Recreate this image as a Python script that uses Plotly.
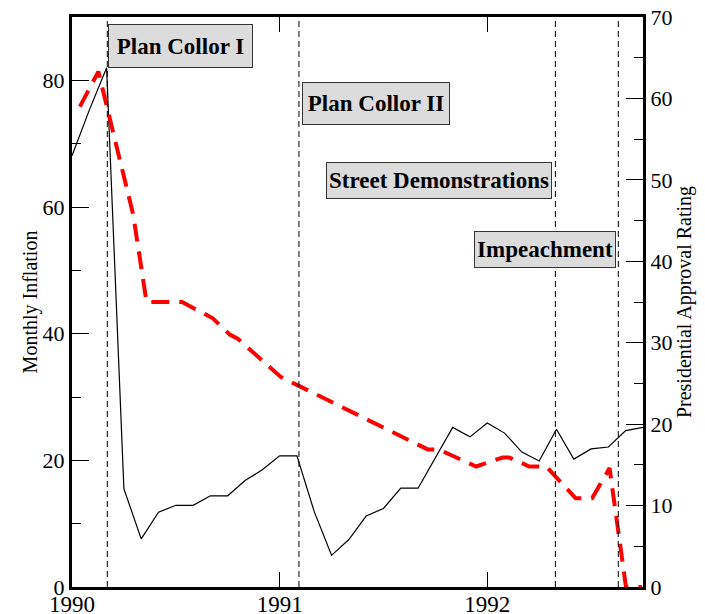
import plotly.graph_objects as go

# ---- data ----
infl_months = ["1990-01", "1990-02", "1990-03", "1990-04", "1990-05", "1990-06",
               "1990-07", "1990-08", "1990-09", "1990-10", "1990-11", "1990-12",
               "1991-01", "1991-02", "1991-03", "1991-04", "1991-05", "1991-06",
               "1991-07", "1991-08", "1991-09", "1991-10", "1991-11", "1991-12",
               "1992-01", "1992-02", "1992-03", "1992-04", "1992-05", "1992-06",
               "1992-07", "1992-08", "1992-09", "1992-10"]
inflation = [68.1, 75.3, 82.0, 15.5, 7.6, 11.8, 12.9, 12.9, 14.4, 14.4, 16.8, 18.5,
             20.7, 20.7, 11.9, 5.0, 7.5, 11.2, 12.4, 15.6, 15.6, 20.4, 25.2, 23.7,
             25.9, 24.3, 21.3, 19.9, 24.9, 20.2, 21.8, 22.1, 24.7, 25.2]

approval_dates = [1990.038, 1990.127, 1990.295, 1990.359, 1990.530, 1990.678,
                  1990.760, 1990.798, 1991.005, 1991.713, 1991.766, 1991.946,
                  1992.074, 1992.106, 1992.202, 1992.284, 1992.426, 1992.505,
                  1992.589, 1992.668, 1992.745]
approval = [59.0, 63.3, 45.7, 35.0, 35.0, 33.0, 31.0, 30.5, 25.8, 16.9, 16.9, 14.8,
            15.9, 15.9, 14.8, 14.8, 10.9, 10.9, 14.6, 0.0, 0.0]

event_dates = [1990.170, 1991.093, 1992.328, 1992.631]
event_labels = ["Plan Collor I", "Plan Collor II", "Street Demonstrations", "Impeachment"]
label_x = [1990.175, 1991.107, 1991.221, 1991.934]
label_y = [85.4, 76.3, 64.2, 53.3]

year_ticks = [1990, 1991, 1992]
year_labels = ["1990", "1991", "1992"]

# ---- figure ----
infl_x = [int(m[:4]) + (int(m[5:]) - 1) / 12 for m in infl_months]

FONT = "Liberation Serif"
fig = go.Figure()
fig.add_trace(go.Scatter(x=infl_x, y=inflation, mode="lines",
                         line=dict(color="black", width=1.2), yaxis="y",
                         showlegend=False))
fig.add_trace(go.Scatter(x=approval_dates, y=approval, mode="lines",
                         line=dict(color="#ff0000", width=4, dash="18px,10px"),
                         yaxis="y2", showlegend=False))

shapes = []
for d in event_dates:
    shapes.append(dict(type="line", xref="x", yref="paper", x0=d, x1=d, y0=0, y1=1,
                       line=dict(color="black", width=1, dash="6px,4px"), layer="above"))

box_w = [141, 144, 222, 138]
box_h = [40, 39, 33, 33]
annotations = []
for lab, xx, yy, w, h in zip(event_labels, label_x, label_y, box_w, box_h):
    annotations.append(dict(x=xx, y=yy, xref="x", yref="y", text="<b>" + lab + "</b>",
                            showarrow=False, xanchor="left", yanchor="middle",
                            bgcolor="#dcdcdc", bordercolor="#333333", borderwidth=1,
                            borderpad=1, width=w, height=h, align="center",
                            valign="middle",
                            font=dict(family=FONT, size=23, color="black")))

fig.update_layout(
    template="none",
    width=705, height=614,
    margin=dict(l=64, r=70, t=9, b=35, autoexpand=False),
    paper_bgcolor="white", plot_bgcolor="white",
    font=dict(family=FONT, size=22, color="black"),
    shapes=shapes, annotations=annotations,
    xaxis=dict(range=[1990, 1992.75], tickvals=year_ticks, ticktext=year_labels,
               ticks="inside", ticklen=15, tickwidth=1.2, tickcolor="black",
               showline=True, linewidth=3, linecolor="black", mirror="ticks",
               showgrid=False, zeroline=False, tickfont=dict(size=23),
               automargin=False, ticklabeloverflow="allow", ticklabelstandoff=-6),
    yaxis=dict(range=[0, 90], tick0=0, dtick=20, ticks="inside", ticklen=17,
               tickwidth=1.2, tickcolor="black",
               minor=dict(dtick=10, ticks="inside", ticklen=9, tickwidth=1.2,
                          tickcolor="black", showgrid=False),
               showline=True, linewidth=3, linecolor="black", showgrid=False,
               zeroline=False, tickfont=dict(size=22), automargin=False,
               ticklabeloverflow="allow",
               title=dict(text="Monthly Inflation", font=dict(size=20), standoff=0)),
    yaxis2=dict(range=[0, 70], tick0=0, dtick=10, overlaying="y", side="right",
                ticks="inside", ticklen=17, tickwidth=1.2, tickcolor="black",
                minor=dict(dtick=5, ticks="inside", ticklen=9, tickwidth=1.2,
                           tickcolor="black", showgrid=False),
                showline=True, linewidth=3, linecolor="black", showgrid=False,
                zeroline=False, tickfont=dict(size=22), automargin=False,
                ticklabeloverflow="allow",
                title=dict(text="Presidential Approval Rating", font=dict(size=20),
                           standoff=6)),
)

fig.write_html("out.html")
